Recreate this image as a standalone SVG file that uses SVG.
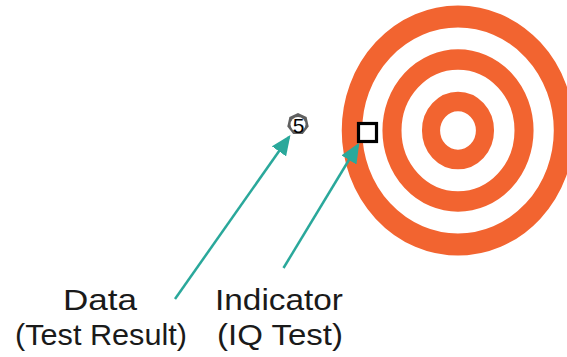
<svg xmlns="http://www.w3.org/2000/svg" width="567" height="357" viewBox="0 0 567 357">
<style>
.ring{fill:none;stroke:#F26430;}
.lbl{font-family:"Liberation Sans",Arial,sans-serif;font-size:30px;fill:#1a1a1a;text-anchor:middle;}
.conn{stroke:#2AA89B;stroke-width:2.5;fill:none;}
</style>
<defs>
<marker id="ah" markerWidth="8" markerHeight="7" refX="7" refY="3.5" orient="auto" markerUnits="strokeWidth">
<path d="M0,0 L8,3.5 L0,7 Z" fill="#2AA89B"/>
</marker>
</defs>
<rect width="567" height="357" fill="#fff"/>
<g id="target" transform="translate(458,130.5) scale(0.93,1)">
<circle class="ring" r="114" stroke-width="22"/>
<circle class="ring" r="71" stroke-width="20.5"/>
<circle class="ring" r="29" stroke-width="19.5"/>
</g>
<g id="indicator">
<rect x="358.5" y="123.5" width="18" height="18" fill="#fff" stroke="#000" stroke-width="3.2"/>
</g>
<g id="data">
<polygon points="298,113 306.6,117.1 308.7,126.4 302.8,133.9 293.2,133.9 287.3,126.4 289.4,117.1" fill="#5f5f5f"/>
<circle cx="298" cy="124.5" r="7.5" fill="#fff"/>
<text x="298.5" y="133" font-family="Liberation Sans,Arial,sans-serif" font-size="21" text-anchor="middle" fill="#000">5</text>
</g>
<g id="connectors">
<line class="conn" x1="175" y1="299" x2="289" y2="137" marker-end="url(#ah)"/>
<line class="conn" x1="283.5" y1="268" x2="358" y2="145" marker-end="url(#ah)"/>
</g>
<g id="label-data">
<text class="lbl" x="100" y="310" textLength="74" lengthAdjust="spacingAndGlyphs">Data</text>
<text class="lbl" x="101" y="345" textLength="172" lengthAdjust="spacingAndGlyphs">(Test Result)</text>
</g>
<g id="label-indicator">
<text class="lbl" x="279" y="310" textLength="128" lengthAdjust="spacingAndGlyphs">Indicator</text>
<text class="lbl" x="280" y="345" textLength="126" lengthAdjust="spacingAndGlyphs">(IQ Test)</text>
</g>
</svg>
